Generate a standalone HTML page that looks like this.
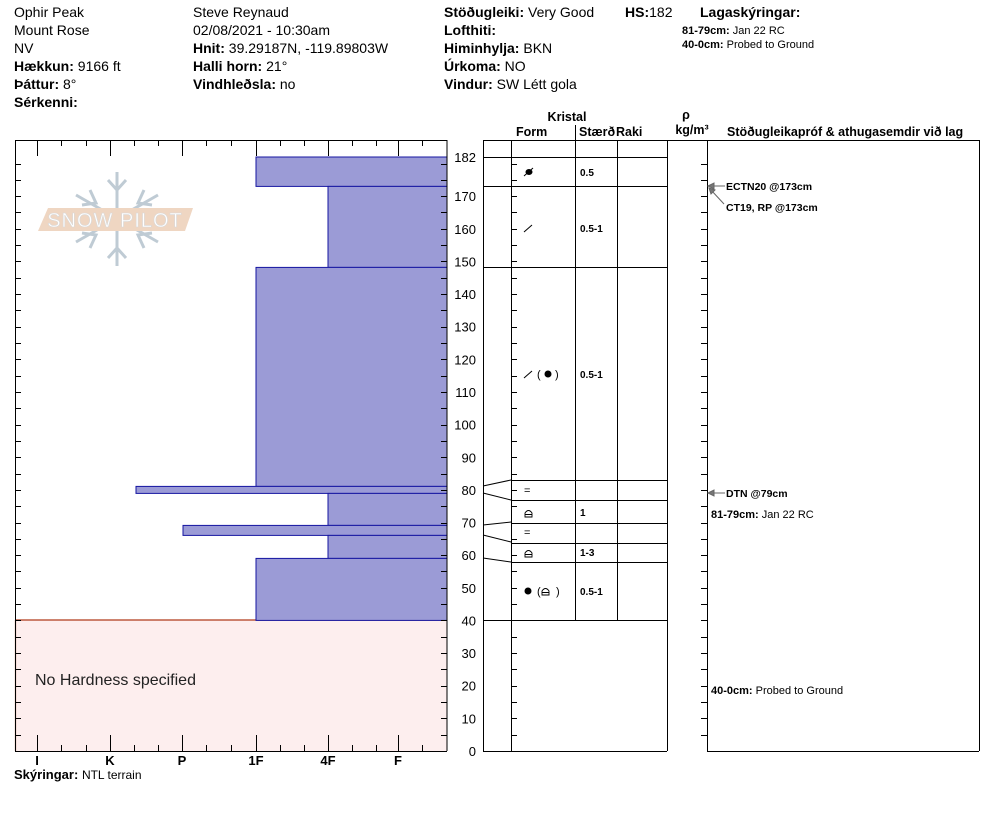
<!DOCTYPE html>
<html><head><meta charset="utf-8">
<style>
body{margin:0;background:#fff;}
svg{display:block;font-family:"Liberation Sans",Arial,sans-serif;}
.b{font-weight:bold;}
</style></head>
<body>
<svg id="s" width="994" height="840" viewBox="0 0 994 840" xmlns="http://www.w3.org/2000/svg">
<rect width="994" height="840" fill="#fff"/>
<g font-size="14" fill="#000">
<text x="14" y="17">Ophir Peak</text>
<text x="14" y="35">Mount Rose</text>
<text x="14" y="53">NV</text>
<text x="14" y="71"><tspan class="b">Hækkun:</tspan> 9166 ft</text>
<text x="14" y="89"><tspan class="b">Þáttur:</tspan> 8°</text>
<text x="14" y="107" class="b">Sérkenni:</text>
<text x="193" y="17">Steve Reynaud</text>
<text x="193" y="35">02/08/2021 - 10:30am</text>
<text x="193" y="53"><tspan class="b">Hnit:</tspan> 39.29187N, -119.89803W</text>
<text x="193" y="71"><tspan class="b">Halli horn:</tspan> 21°</text>
<text x="193" y="89"><tspan class="b">Vindhleðsla:</tspan> no</text>
<text x="444" y="17"><tspan class="b">Stöðugleiki:</tspan> Very Good</text>
<text x="444" y="35" class="b">Lofthiti:</text>
<text x="444" y="53"><tspan class="b">Himinhylja:</tspan> BKN</text>
<text x="444" y="71"><tspan class="b">Úrkoma:</tspan> NO</text>
<text x="444" y="89"><tspan class="b">Vindur:</tspan>  SW Létt gola</text>
<text x="625" y="17"><tspan class="b">HS:</tspan>182</text>
<text x="700" y="17" class="b">Lagaskýringar:</text>
</g>
<text x="682" y="34" font-size="11"><tspan class="b">81-79cm:</tspan> Jan 22 RC</text>
<text x="682" y="48" font-size="11"><tspan class="b">40-0cm:</tspan> Probed to Ground</text>

<g stroke="#b9c6d0" stroke-width="3" fill="none" opacity="0.9">
<line x1="117" y1="172" x2="117" y2="266"/>
<line x1="76" y1="195" x2="158" y2="242"/>
<line x1="76" y1="242" x2="158" y2="195"/>
<path d="M108,180 L117,190 L126,180 M108,258 L117,248 L126,258 M82,205 L96,203 L90,190 M152,233 L138,235 L144,248 M82,233 L96,235 L90,248 M152,205 L138,203 L144,190"/>
</g>
<polygon points="48,208 193,208 185,231 38,231" fill="#efd6c2"/>
<text x="115" y="227" font-size="20" text-anchor="middle" fill="#fff" stroke="#d9d9d9" stroke-width="0.6" letter-spacing="1">SNOW PILOT</text>

<rect x="15" y="620" width="432" height="131" fill="#fdeeee"/>
<line x1="15" y1="620" x2="447" y2="620" stroke="#b03a1a" stroke-width="1.2"/>
<line x1="15.5" y1="620" x2="15.5" y2="751" stroke="#b03a1a" stroke-width="1.2"/>
<g fill="#9b9bd6" stroke="#1414a0" stroke-width="1">
<rect x="256" y="157" width="191" height="29.4"/>
<rect x="328" y="186.4" width="119" height="81"/>
<rect x="256" y="267.4" width="191" height="219"/>
<rect x="136" y="486.4" width="311" height="7"/>
<rect x="328" y="493.4" width="119" height="32"/>
<rect x="183" y="525.4" width="264" height="10"/>
<rect x="328" y="535.4" width="119" height="23"/>
<rect x="256" y="558.4" width="191" height="62"/>
</g>
<text x="35" y="685" font-size="16" fill="#222">No Hardness specified</text>
<path d="M15.5,140 V751.5 H447 M15,140.5 H447 M447,140 V751" stroke="#000" fill="none" stroke-width="1"/>
<g id="lt" stroke="#000" stroke-width="1"></g>
<g font-size="13" class="b" text-anchor="middle">
<text x="37" y="765">I</text><text x="110" y="765">K</text><text x="182" y="765">P</text>
<text x="256" y="765">1F</text><text x="328" y="765">4F</text><text x="398" y="765">F</text>
</g>
<text x="14" y="779" font-size="13"><tspan class="b">Skýringar:</tspan> <tspan font-size="12">NTL terrain</tspan></text>

<g id="dl" font-size="13" text-anchor="end"></g>

<g stroke="#000" stroke-width="1" fill="none">
<path d="M483,140.5 H979 M483,751.5 H667 M707,751.5 H979"/>
<path d="M483.5,140 V751 M511.5,140 V751 M575.5,140 V620 M617.5,140 V620 M667.5,140 V751 M707.5,140 V751 M979.5,140 V751"/>
<path d="M575.5,125 V140"/>
<path d="M483,157.5 H667 M483,186.5 H667 M483,267.5 H667 M483,620.5 H667"/>
<path d="M511,480.5 H667 M511,500.5 H667 M511,523.5 H667 M511,543.5 H667 M511,562.5 H667"/>
<path d="M483,486 L511,480 M483,493 L511,500 M483,525 L511,522 M483,535 L511,542 M483,558 L511,562"/>
</g>
<g id="mt" stroke="#000" stroke-width="1"></g>
<g font-size="12.5" class="b">
<text x="567" y="121" text-anchor="middle">Kristal</text>
<text x="516" y="136">Form</text>
<text x="579" y="136">Stærð</text>
<text x="616" y="136">Raki</text>
<text x="686" y="119" text-anchor="middle">ρ</text>
<text x="692" y="134" text-anchor="middle">kg/m³</text>
<text x="727" y="136">Stöðugleikapróf &amp; athugasemdir við lag</text>
</g>
<g font-size="10" class="b">
<text x="580" y="176">0.5</text><text x="580" y="232">0.5-1</text><text x="580" y="378">0.5-1</text>
<text x="580" y="516">1</text><text x="580" y="556">1-3</text><text x="580" y="595">0.5-1</text>
</g>
<g font-size="11">
<ellipse cx="529" cy="172" rx="3.5" ry="3" fill="#000"/><line x1="524" y1="176" x2="533" y2="168" stroke="#000"/>
<line x1="524" y1="232" x2="532" y2="225" stroke="#000"/>
<line x1="524" y1="378" x2="532" y2="371" stroke="#000"/>
<text x="537" y="378">(</text><circle cx="548" cy="374" r="3.5"/><text x="555" y="378">)</text>
<text x="524" y="494">=</text><text x="524" y="536">=</text>
<circle cx="528" cy="591" r="3.5"/><text x="537" y="595">(</text><text x="556" y="595">)</text>
</g>
<g stroke="#000" fill="none" stroke-width="0.9">
<path d="M525,517 V513 Q528.5,508 532,513 V517 Z M525,514.5 H532"/>
<path d="M525,557 V553 Q528.5,548 532,553 V557 Z M525,554.5 H532"/>
<path d="M542,595 V591 Q545.5,586 549,591 V595 Z M542,592.5 H549"/>
</g>
<g font-size="10.5" class="b" fill="#000">
<text x="726" y="190">ECTN20 @173cm</text>
<text x="726" y="211">CT19, RP @173cm</text>
<text x="726" y="497">DTN @79cm</text>
</g>
<text x="711" y="518" font-size="11"><tspan class="b">81-79cm:</tspan> Jan 22 RC</text>
<text x="711" y="694" font-size="11"><tspan class="b">40-0cm:</tspan> Probed to Ground</text>
<g stroke="#666" stroke-width="1" fill="#777">
<line x1="710" y1="186" x2="725" y2="186"/><polygon points="708,186 714,183 714,189"/>
<line x1="711" y1="190" x2="724" y2="204"/><polygon points="709,188 715,190 711,194"/>
<line x1="710" y1="493" x2="725" y2="493"/><polygon points="708,493 714,490 714,496"/>
</g>
</svg>
<script>
(function(){
var ns="http://www.w3.org/2000/svg";
function ln(g,x1,y1,x2,y2){var l=document.createElementNS(ns,"line");l.setAttribute("x1",x1);l.setAttribute("y1",y1);l.setAttribute("x2",x2);l.setAttribute("y2",y2);g.appendChild(l);}
var lt=document.getElementById("lt"),mt=document.getElementById("mt"),dl=document.getElementById("dl");
function Y(h){return Math.round(751-3.2637*h)+0.5;}
for(var h=5;h<=180;h+=5){var y=Y(h);ln(lt,15,y,21,y);ln(lt,441,y,447,y);ln(mt,511,y,517,y);ln(mt,701,y,707,y);}
var maj=[37,110,182,256,328,398];
for(var i=0;i<maj.length;i++){ln(lt,maj[i]+0.5,140,maj[i]+0.5,156);ln(lt,maj[i]+0.5,735,maj[i]+0.5,751);}
var mn=[61,86,134,158,206,231,280,304,352,376,422];
for(var i=0;i<mn.length;i++){ln(lt,mn[i]+0.5,140,mn[i]+0.5,146);ln(lt,mn[i]+0.5,745,mn[i]+0.5,751);}
var labs=[0,10,20,30,40,50,60,70,80,90,100,110,120,130,140,150,160,170,182];
for(var i=0;i<labs.length;i++){var t=document.createElementNS(ns,"text");t.setAttribute("x",476);t.setAttribute("y",751-3.2637*labs[i]+5);t.textContent=labs[i];dl.appendChild(t);}
})();
</script>
</body></html>
